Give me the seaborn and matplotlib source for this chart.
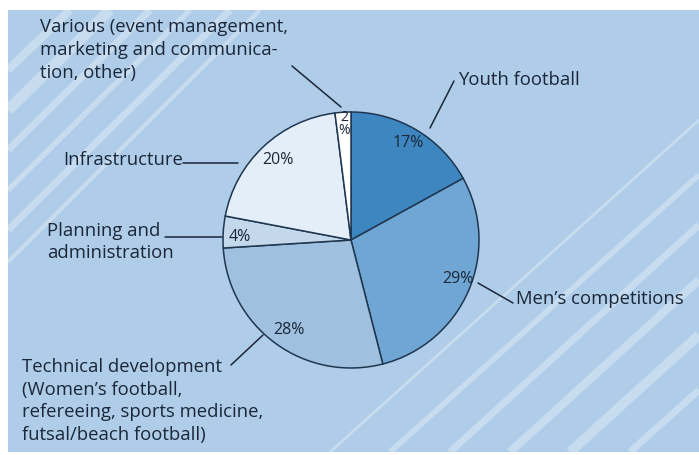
import matplotlib
matplotlib.use("Agg")
import matplotlib.pyplot as plt
import seaborn as sns

# Data
categories = [
    "Youth football",
    "Men\u2019s competitions",
    "Technical development\n(Women\u2019s football,\nrefereeing, sports medicine,\nfutsal/beach football)",
    "Planning and\nadministration",
    "Infrastructure",
    "Various (event management,\nmarketing and communica-\ntion, other)",
]
shares = [17, 29, 28, 4, 20, 2]
slice_colors = ["#3e86c0", "#6fa6d3", "#9fc0de", "#c4d8eb", "#e3eef8", "#ffffff"]

sns.set_theme(style="white")
plt.rcParams["font.family"] = ["Open Sans", "DejaVu Sans"]

bg = "#afcde9"
ink = "#1b2738"
edge = "#1f3650"

fig = plt.figure(figsize=(6.99, 4.55), dpi=100, facecolor="white")
ax = fig.add_axes([0, 0, 1, 1])

# background panel
panel = plt.Rectangle((8, 10), 691, 442, facecolor=bg, edgecolor="none", zorder=0)
ax.add_patch(panel)

# decorative diagonal stripes
stripes = [
    ((8, 70), (70, 10), 6), ((8, 110), (110, 10), 8), ((8, 150), (150, 10), 5),
    ((8, 190), (190, 10), 4), ((8, 230), (230, 10), 5), ((8, 262), (260, 10), 3),
    ((330, 452), (699, 120), 2), ((390, 452), (699, 175), 4), ((450, 452), (699, 225), 5),
    ((510, 452), (699, 280), 6), ((570, 452), (699, 335), 7), ((630, 452), (699, 390), 5),
]
for (x0, y0), (x1, y1), w in stripes:
    ln, = ax.plot([x0, x1], [y0, y1], color="white", alpha=0.3, lw=w,
                  solid_capstyle="butt", zorder=1)
    ln.set_clip_path(panel)

# y axis is inverted below, so clockwise on screen = counterclock in data
cx, cy, r = 351, 240, 128
wedges, _ = ax.pie(shares, colors=slice_colors, startangle=-90, counterclock=True,
                   center=(cx, cy), radius=r, frame=True,
                   wedgeprops=dict(edgecolor=edge, linewidth=1.1))
for w in wedges:
    w.set_zorder(3)
ax.set_xlim(0, 699)
ax.set_ylim(455, 0)
ax.set_aspect("equal")
ax.axis("off")

# percent labels
pct_pos = [(408, 143), (458, 279), (289, 330), (240, 237), (278, 160), (344, 124)]
for v, (px, py) in zip(shares, pct_pos):
    small = v < 3
    txt = f"{v}\n%" if small else f"{v}%"
    ax.text(px, py, txt, ha="center", va="center", fontsize=10 if small else 11.5,
            color=ink, linespacing=0.85, zorder=5)

# category labels with leader lines
label_pos = [(458, 80), (516, 299), (22, 401), (47, 242), (63, 160), (40, 50)]
leaders = [
    ((454, 81), (430, 128)), ((513, 303), (478, 283)), ((231, 365), (263, 335)),
    ((165, 237), (222, 237)), ((183, 163), (238, 163)), ((292, 66), (341, 107)),
]
for name, (lx, ly), (p0, p1) in zip(categories, label_pos, leaders):
    ax.text(lx, ly, name, ha="left", va="center", fontsize=13.3, color=ink,
            linespacing=1.33, zorder=5)
    ax.plot([p0[0], p1[0]], [p0[1], p1[1]], color=ink, lw=1.1, zorder=4)

fig.savefig("out.png", dpi=100, facecolor="white")
